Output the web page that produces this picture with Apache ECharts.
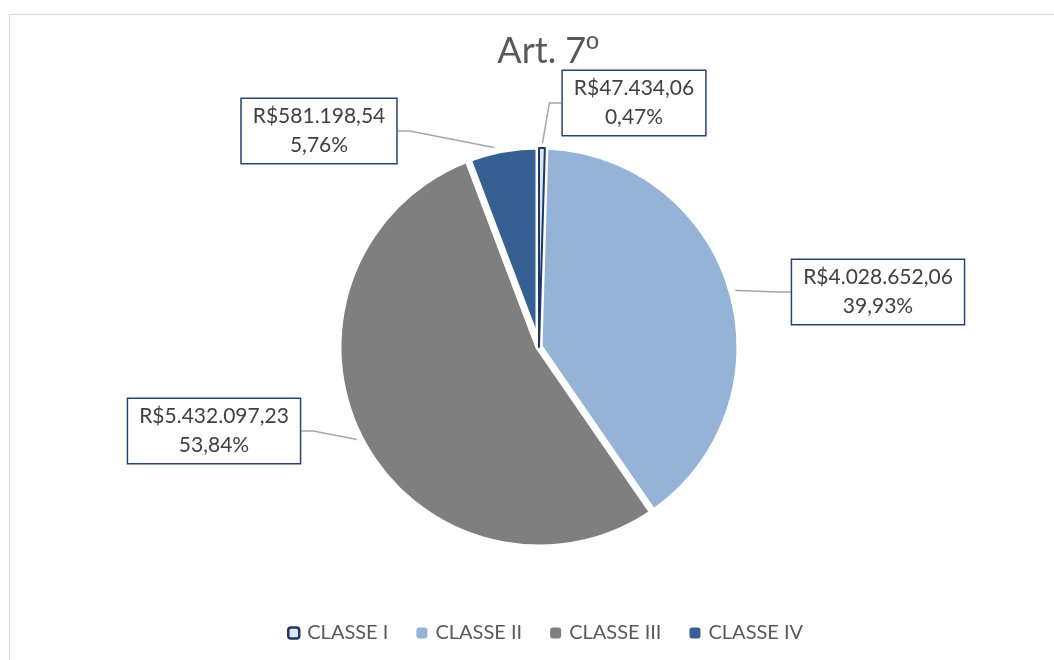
<!DOCTYPE html>
<html>
<head>
<meta charset="utf-8">
<script src="https://cdn.jsdelivr.net/npm/echarts@6/dist/echarts.min.js"></script>
<style>
html,body{margin:0;padding:0;background:#fff;}
#c{width:1054px;height:660px;}
</style>
</head>
<body>
<div id="c"></div>
<script>
const categories = ['CLASSE I', 'CLASSE II', 'CLASSE III', 'CLASSE IV'];
const values = [47434.06, 4028652.06, 5432097.23, 581198.54];
const titleMain = 'Art. 7';
const titleOrd = 'º';

const fills = ['#DCE6F2', '#95B3D7', '#7F7F7F', '#366092'];
const outlineColor = '#1F3864';
const labelCenters = [[634, 103], [878, 292], [214, 431], [319, 131]];

function brl(v) {
  const parts = v.toFixed(2).split('.');
  const intPart = parts[0].replace(/\B(?=(\d{3})+(?!\d))/g, '.');
  return 'R$' + intPart + ',' + parts[1];
}

const chart = echarts.init(document.getElementById('c'), null, {renderer: 'canvas'});

// main pie: first slice (tiny, outlined) is drawn by an overlay series on top
const mainData = categories.map((name, i) => ({
  name, value: values[i],
  itemStyle: i === 0
    ? {color: 'rgba(0,0,0,0)', borderWidth: 0}
    : {color: fills[i], borderColor: '#ffffff', borderWidth: 7}
}));
const overlayData = categories.map((name, i) => ({
  name, value: values[i],
  itemStyle: i === 0
    ? {color: fills[i], borderColor: outlineColor, borderWidth: 2}
    : {color: 'rgba(0,0,0,0)', borderWidth: 0}
}));

const legendData = categories.map((name, i) => ({
  name,
  itemStyle: i === 0
    ? {color: fills[i], borderColor: outlineColor, borderWidth: 2.5}
    : {color: fills[i], borderWidth: 0}
}));

chart.setOption({
  animation: false,
  graphic: [{
    type: 'rect',
    shape: {x: 9.5, y: 14.5, width: 1100, height: 700},
    style: {fill: 'none', stroke: '#D9D9D9', lineWidth: 1},
    silent: true
  }],
  title: {
    text: '{a|' + titleMain + '}{b|' + titleOrd + '}',
    left: 543,
    textAlign: 'center',
    top: 28,
    textStyle: {
      fontWeight: 'normal',
      rich: {
        a: {fontFamily: 'Lato', fontSize: 36, fontWeight: 'normal', color: '#595959'},
        b: {fontFamily: 'Liberation Sans', fontSize: 34, fontWeight: 'normal', color: '#595959'}
      }
    }
  },
  legend: {
    bottom: 12,
    left: 282,
    itemWidth: 11,
    itemHeight: 11,
    itemGap: 28,
    textStyle: {fontFamily: 'Lato', fontSize: 20, color: '#595959', padding: [0, 0, 0, 3]},
    data: legendData
  },
  series: [{
    type: 'pie',
    z: 2,
    center: [539, 347],
    radius: 201,
    startAngle: 90,
    clockwise: true,
    silent: true,
    emphasis: {disabled: true},
    data: mainData,
    label: {
      show: true,
      position: 'outside',
      formatter: p => brl(p.value) + '\n' + p.percent.toFixed(2).replace('.', ',') + '%',
      fontFamily: 'Lato',
      fontSize: 21,
      lineHeight: 29,
      color: '#404040',
      backgroundColor: '#fff',
      borderColor: '#2B4470',
      borderWidth: 1.5,
      padding: [3, 11, 3, 11],
      align: 'center'
    },
    labelLine: {
      show: true,
      length: 15,
      length2: 12,
      lineStyle: {color: '#A6A6A6', width: 1.5}
    },
    labelLayout: function (params) {
      const p = labelCenters[params.dataIndex];
      return {x: p[0], y: p[1], align: 'center', verticalAlign: 'middle'};
    }
  }, {
    type: 'pie',
    z: 3,
    center: [539, 347],
    radius: 199,
    startAngle: 90,
    clockwise: true,
    silent: true,
    emphasis: {disabled: true},
    data: overlayData,
    label: {show: false},
    labelLine: {show: false}
  }]
});
</script>
</body>
</html>
